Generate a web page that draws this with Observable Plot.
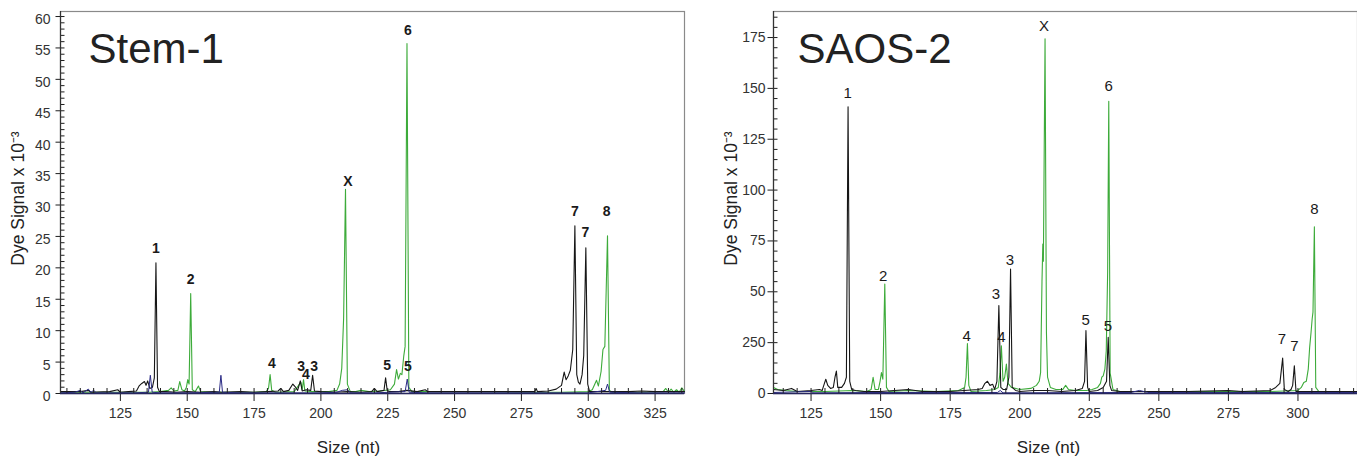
<!DOCTYPE html>
<html><head><meta charset="utf-8">
<script src="https://cdn.jsdelivr.net/npm/d3@7"></script>
<script src="https://cdn.jsdelivr.net/npm/@observablehq/plot@0.6"></script>
<style>
body{margin:0;background:#fff;}
#wrap{display:flex;width:1357px;height:459px;overflow:hidden;}
</style></head><body><div id="wrap"></div>
<script>
// ---------- Shared text ----------
const yAxisLabel = "Dye Signal x 10⁻³";
const xAxisLabel = "Size (nt)";

// ---------- Panel 1: Stem-1 ----------
const stemTitle = "Stem-1";
const stemXDomain = [102.6, 336];
const stemYDomain = [0, 60.8];
const stemXTicks = [125, 150, 175, 200, 225, 250, 275, 300, 325];
const stemXMinor = [105,110,115,120,125,130,135,140,145,150,155,160,165,170,175,180,185,190,195,200,205,210,215,220,225,230,235,240,245,250,255,260,265,270,275,280,285,290,295,300,305,310,315,320,325,330,335];
const stemYTicks = [0,5,10,15,20,25,30,35,40,45,50,55,60];
const stemYMinor = d3.range(0, 61, 1);
// traces: [size (nt), signal x10^-3]
const stemBlack = [[102.6,0.3],[110,0.3],[113,0.5],[114,0.2],[121,0.3],[124,0.6],[125,0.2],[128,0.3],[131,0.4],[132,1.2],[133,1.6],[134,1.9],[134.6,1.3],[135.2,2.0],[136,0.8],[137,1.0],[137.7,2.5],[138.3,20.8],[138.9,1.0],[139.6,0.3],[142,0.3],[146,0.2],[150,0.3],[155,0.2],[160,0.3],[163,0.2],[170,0.3],[175,0.2],[180,0.3],[184,0.4],[185,0.8],[186,0.3],[188,0.5],[189.5,1.5],[190.5,1.0],[191.3,0.5],[192.3,2.0],[193,0.4],[194.5,0.6],[196.2,0.5],[196.9,2.9],[197.6,0.4],[200,0.3],[205,0.2],[210,0.3],[215,0.2],[219,0.3],[220,0.8],[221,0.3],[223.6,0.5],[224.2,2.5],[224.8,0.5],[225.5,0.3],[229,0.3],[232.2,0.5],[236,0.3],[239,0.6],[240,0.3],[245,0.3],[250,0.3],[255,0.3],[260,0.3],[265,0.3],[270,0.3],[275,0.3],[280,0.3],[280.5,0.8],[281,0.3],[285,0.4],[288,0.7],[290,1.3],[291,3.4],[291.7,2.2],[292.5,2.8],[293.3,3.7],[294.2,7.0],[295.0,26.7],[295.7,3.0],[296.3,1.8],[296.9,1.5],[297.7,3.0],[298.3,6.0],[299.1,23.2],[299.8,1.5],[300.5,0.3],[305,0.3],[310,0.3],[315,0.3],[320,0.4],[325,0.3],[330,0.3],[336,0.3]];
const stemGreen = [[102.6,0.2],[110,0.2],[120,0.2],[130,0.2],[136,0.2],[140,0.3],[143,0.5],[144,0.9],[145,0.4],[146.5,0.5],[147.2,1.9],[148,0.6],[149,0.4],[149.7,1.0],[150.2,2.2],[150.7,1.5],[151.3,15.9],[151.9,0.6],[153,0.3],[154.2,1.2],[155,0.3],[160,0.2],[170,0.2],[175,0.2],[179.5,0.3],[180.4,0.8],[181.0,3.0],[181.6,0.5],[183,0.2],[190,0.3],[192.5,1.8],[193,0.6],[193.5,2.2],[194,0.4],[197,0.3],[203,0.3],[206,0.5],[207,1.5],[207.8,4.0],[208.5,12],[209.2,32.5],[209.9,1.5],[211,0.3],[213,0.3],[215,0.5],[218,0.3],[222,0.4],[226,0.6],[227.5,1.5],[228.3,3.8],[229,2.3],[229.7,3.2],[230.3,3.0],[231,6.0],[231.5,7.5],[232.2,55.7],[232.9,1.0],[234,0.3],[240,0.3],[260,0.3],[280,0.2],[290,0.2],[300,0.3],[301.5,0.6],[303.1,2.1],[303.8,1.2],[304.8,3.5],[305.5,7.0],[306.2,7.5],[307.2,25.1],[307.9,0.5],[309,0.2],[320,0.2],[328,0.3],[329,0.8],[330,0.2],[331,0.7],[332,0.2],[333,0.6],[334,0.2],[335,0.9],[336,0.3]];
const stemBlue = [[102.6,0.1],[108,0.2],[110,0.5],[111,0.1],[113,0.7],[114,0.2],[115,0.5],[116,0.1],[125,0.1],[130,0.1],[135.5,0.2],[136.2,2.9],[136.9,0.2],[140,0.1],[150,0.1],[162,0.2],[162.6,2.9],[163.2,0.2],[170,0.1],[200,0.1],[206,0.2],[208,0.5],[210,0.6],[211,0.1],[220,0.1],[231.5,0.3],[232.3,2.3],[233,0.2],[240,0.1],[300,0.1],[306.5,0.5],[307.2,1.5],[308,0.2],[320,0.1],[336,0.1]];
const stemLabelText   = ["1","2","4","3","4","3","X","5","5","6","7","7","8"];
const stemLabelSize   = [138.3,151.3,181.7,192.6,194.4,197.5,210.1,224.8,232.5,232.5,295.0,298.9,306.9];
const stemLabelSignal = [23.0,18.1,4.7,4.3,3.0,4.3,33.7,4.5,4.3,57.8,29.0,25.7,29.0];

// ---------- Panel 2: SAOS-2 ----------
const saosTitle = "SAOS-2";
const saosXDomain = [111.5, 321.4];
const saosYDomain = [0, 187.8];
const saosXTicks = [125, 150, 175, 200, 225, 250, 275, 300];
const saosXMinor = [115,120,125,130,135,140,145,150,155,160,165,170,175,180,185,190,195,200,205,210,215,220,225,230,235,240,245,250,255,260,265,270,275,280,285,290,295,300,305,310,315,320];
const saosYTicks = [0,25,50,75,100,125,150,175];
const saosYTickLabels = ["0","250","50","75","100","125","150","175"];
const saosYMinor = d3.range(0, 186, 5);
const saosBlack = [[111.5,2],[115,1.5],[118,2.5],[120,1],[125,1.5],[128,2],[129,1.5],[129.8,5],[130.3,7],[131,4],[132,2.5],[133,3],[133.6,8],[134.1,11],[134.6,3],[136,3],[137,5],[137.7,8],[138.3,141],[138.9,6],[139.6,2],[141,1.5],[144,1],[150,1],[160,2],[165,1],[175,1],[180,1.5],[185,2],[186.5,2.5],[187.5,5],[188.4,6],[189.3,4],[190.3,4.5],[191,2],[191.8,6],[192.5,43.2],[193.2,3],[194,2],[195.3,2],[196.1,8],[196.7,61.2],[197.3,3],[198.5,1.5],[200,1],[205,1.5],[210,1.5],[215,1],[220,1.5],[222.5,2.5],[223.3,6],[223.8,30.9],[224.4,3],[225,1],[228,1.5],[230,3],[231.2,6],[231.8,27.6],[232.4,4],[233,1.5],[236,1],[245,1],[260,1],[275,1.5],[280,1],[290,1.5],[292,3],[293.5,5],[294.5,17.4],[295.1,2],[296.5,1],[297.5,2],[298.1,4],[298.7,13.6],[299.3,1],[302,1],[310,1],[321.4,1]];
const saosGreen = [[111.5,3],[113,2],[116,1.5],[120,1],[130,1],[140,1.5],[145,1],[146.6,2],[147.3,8],[148,2],[149.2,2],[149.8,6],[150.3,10.3],[150.8,7],[151.5,53.8],[152.1,3],[153,1],[160,1.5],[170,1],[178,1.5],[180.2,3],[180.7,8],[181.2,24.6],[181.7,4],[182.5,1],[188,1.5],[191,2],[192.3,3],[192.9,10],[193.4,23.5],[194,6],[194.6,8],[195.2,14.5],[195.8,5],[197,3],[200,2],[204,2.5],[206,4],[207,6],[207.5,10.3],[208,55],[208.3,73.5],[208.5,65],[208.8,120],[209.1,174.4],[209.6,30],[210,8],[211,3],[213,2],[215.5,2],[216.5,4],[217.5,2],[220,1.5],[224,1.5],[226,2],[228,3],[229,5],[229.5,8],[230,8.7],[230.6,12],[231.1,21],[231.6,60],[232,143.7],[232.5,10],[233.5,2],[236,1],[245,1],[250,0.8],[260,1],[280,1],[290,1],[300,1.5],[301.2,3],[302.1,5.4],[303,6],[303.7,12],[304.2,22.6],[304.7,30],[305.1,36.6],[305.4,40],[305.9,82],[306.4,3],[307.5,1],[315,1],[321.4,1]];
const saosBlue = [[111.5,0.5],[125,1],[126,0.3],[150,0.5],[192,0.5],[193,1.5],[194,0.3],[240,0.5],[243,1.5],[246,0.5],[321.4,0.5]];
const saosLabelText   = ["1","2","4","3","4","3","X","5","5","6","7","7","8"];
const saosLabelSize   = [138.2,150.9,180.9,191.4,193.4,196.5,208.7,223.7,231.7,232.0,294.2,298.7,305.9];
const saosLabelSignal = [147.5,57.9,28.1,48.9,27.6,65.6,180.8,36.1,33.3,150.9,26.8,23.5,90.7];

// ---------- drawing ----------
const FONT = "'Liberation Sans', Arial, Helvetica, sans-serif";
const GREEN = "#3dab3a", BLACK = "#161616", BLUE = "#2b2b86";
const H = 459, MT = 11, MB = 66, PLOT_H = H - MT - MB;

const tickSym = (dx, dy) => ({draw(ctx) { ctx.moveTo(0, 0); ctx.lineTo(dx, dy); }});
const tickRight = tickSym(4, 0);

function panel(cfg) {
  const labels = cfg.labelText.map((t, i) => ({t, x: cfg.labelSize[i], y: cfg.labelSignal[i]}));
  const fmt = cfg.yTickLabels ? (d => cfg.yTickLabels[cfg.yTicks.indexOf(d)]) : (d => String(d));
  const x0 = cfg.xDomain[0];
  const tickLeft = tickSym(-cfg.yTickSize, 0);
  const tickStyle = {stroke: "#1e1e1e", strokeWidth: 1};
  return Plot.plot({
    width: cfg.width, height: H,
    marginLeft: cfg.marginLeft, marginRight: cfg.marginRight, marginTop: MT, marginBottom: MB,
    style: {fontFamily: FONT, background: "white"},
    x: {domain: cfg.xDomain},
    y: {domain: cfg.yDomain},
    marks: [
      Plot.frame({stroke: "#8a8a8a", strokeWidth: 1.2}),
      // traces
      Plot.line(cfg.green, {x: d => d[0], y: d => d[1], stroke: GREEN, strokeWidth: 1.1}),
      Plot.line(cfg.black, {x: d => d[0], y: d => d[1], stroke: BLACK, strokeWidth: 1.1}),
      Plot.line(cfg.blue, {x: d => d[0], y: d => d[1], stroke: BLUE, strokeWidth: 1}),
      // x tick marks: minor point up into the plot, major cross below the axis
      Plot.tickX(cfg.xMinor, {x: d => d, insetTop: PLOT_H - 5, ...tickStyle}),
      Plot.tickX(cfg.xTicks, {x: d => d, insetTop: PLOT_H, insetBottom: -8, ...tickStyle}),
      // y tick marks: minor point right into the plot, major point left
      Plot.dot(cfg.yMinor, {x: x0, y: d => d, symbol: tickRight, fill: "none", ...tickStyle}),
      Plot.dot(cfg.yTicks, {x: x0, y: d => d, symbol: tickLeft, fill: "none", ...tickStyle}),
      // axis lines
      Plot.ruleY([0], {stroke: "#27275e", strokeWidth: 1.3}),
      Plot.ruleX([x0], {stroke: "#333", strokeWidth: 1.2}),
      // tick labels
      Plot.axisX({ticks: cfg.xTicks, tickSize: 0, tickPadding: 15, fontSize: 14, fill: "#333", label: null}),
      Plot.axisY({ticks: cfg.yTicks, tickSize: 0, tickPadding: cfg.yTickSize + cfg.yTickPad, dy: cfg.yLabelDy, fontSize: 14, fill: "#333", tickFormat: fmt, label: null}),
      // peak labels
      Plot.text(labels, {x: "x", y: "y", text: "t", fontSize: cfg.labelFont, fontWeight: cfg.labelWeight, fill: "#1a1a1a"}),
      // title
      Plot.text([cfg.title], {text: d => d, frameAnchor: "top-left", textAnchor: "start", lineAnchor: "top", dx: cfg.titleDx, dy: 22, fontSize: 42, fill: "#222"}),
      // axis titles
      Plot.text([yAxisLabel], {text: d => d, frameAnchor: "left", textAnchor: "middle", lineAnchor: "middle", rotate: -90, dx: -42, dy: -4, fontSize: 17.5, fill: "#222"}),
      Plot.text([xAxisLabel], {text: d => d, frameAnchor: "bottom", textAnchor: "middle", lineAnchor: "middle", dx: cfg.xLabelDx, dy: 54, fontSize: 17, fill: "#222"})
    ]
  });
}

const wrap = document.getElementById("wrap");
wrap.appendChild(panel({
  width: 690, marginLeft: 60, marginRight: 6,
  xDomain: stemXDomain, yDomain: stemYDomain, xTicks: stemXTicks, xMinor: stemXMinor,
  yTicks: stemYTicks, yMinor: stemYMinor, yTickSize: 5, yTickPad: 5, yLabelDy: 3,
  black: stemBlack, green: stemGreen, blue: stemBlue,
  labelText: stemLabelText, labelSize: stemLabelSize, labelSignal: stemLabelSignal,
  labelFont: 14, labelWeight: "bold", title: stemTitle, titleDx: 28, xLabelDx: -24
}));
wrap.appendChild(panel({
  width: 667, marginLeft: 83, marginRight: 0,
  xDomain: saosXDomain, yDomain: saosYDomain, xTicks: saosXTicks, xMinor: saosXMinor,
  yTicks: saosYTicks, yTickLabels: saosYTickLabels, yMinor: saosYMinor, yTickSize: 6, yTickPad: 2, yLabelDy: 0,
  black: saosBlack, green: saosGreen, blue: saosBlue,
  labelText: saosLabelText, labelSize: saosLabelSize, labelSignal: saosLabelSignal,
  labelFont: 15, labelWeight: "normal", title: saosTitle, titleDx: 24, xLabelDx: -17
}));
</script></body></html>
